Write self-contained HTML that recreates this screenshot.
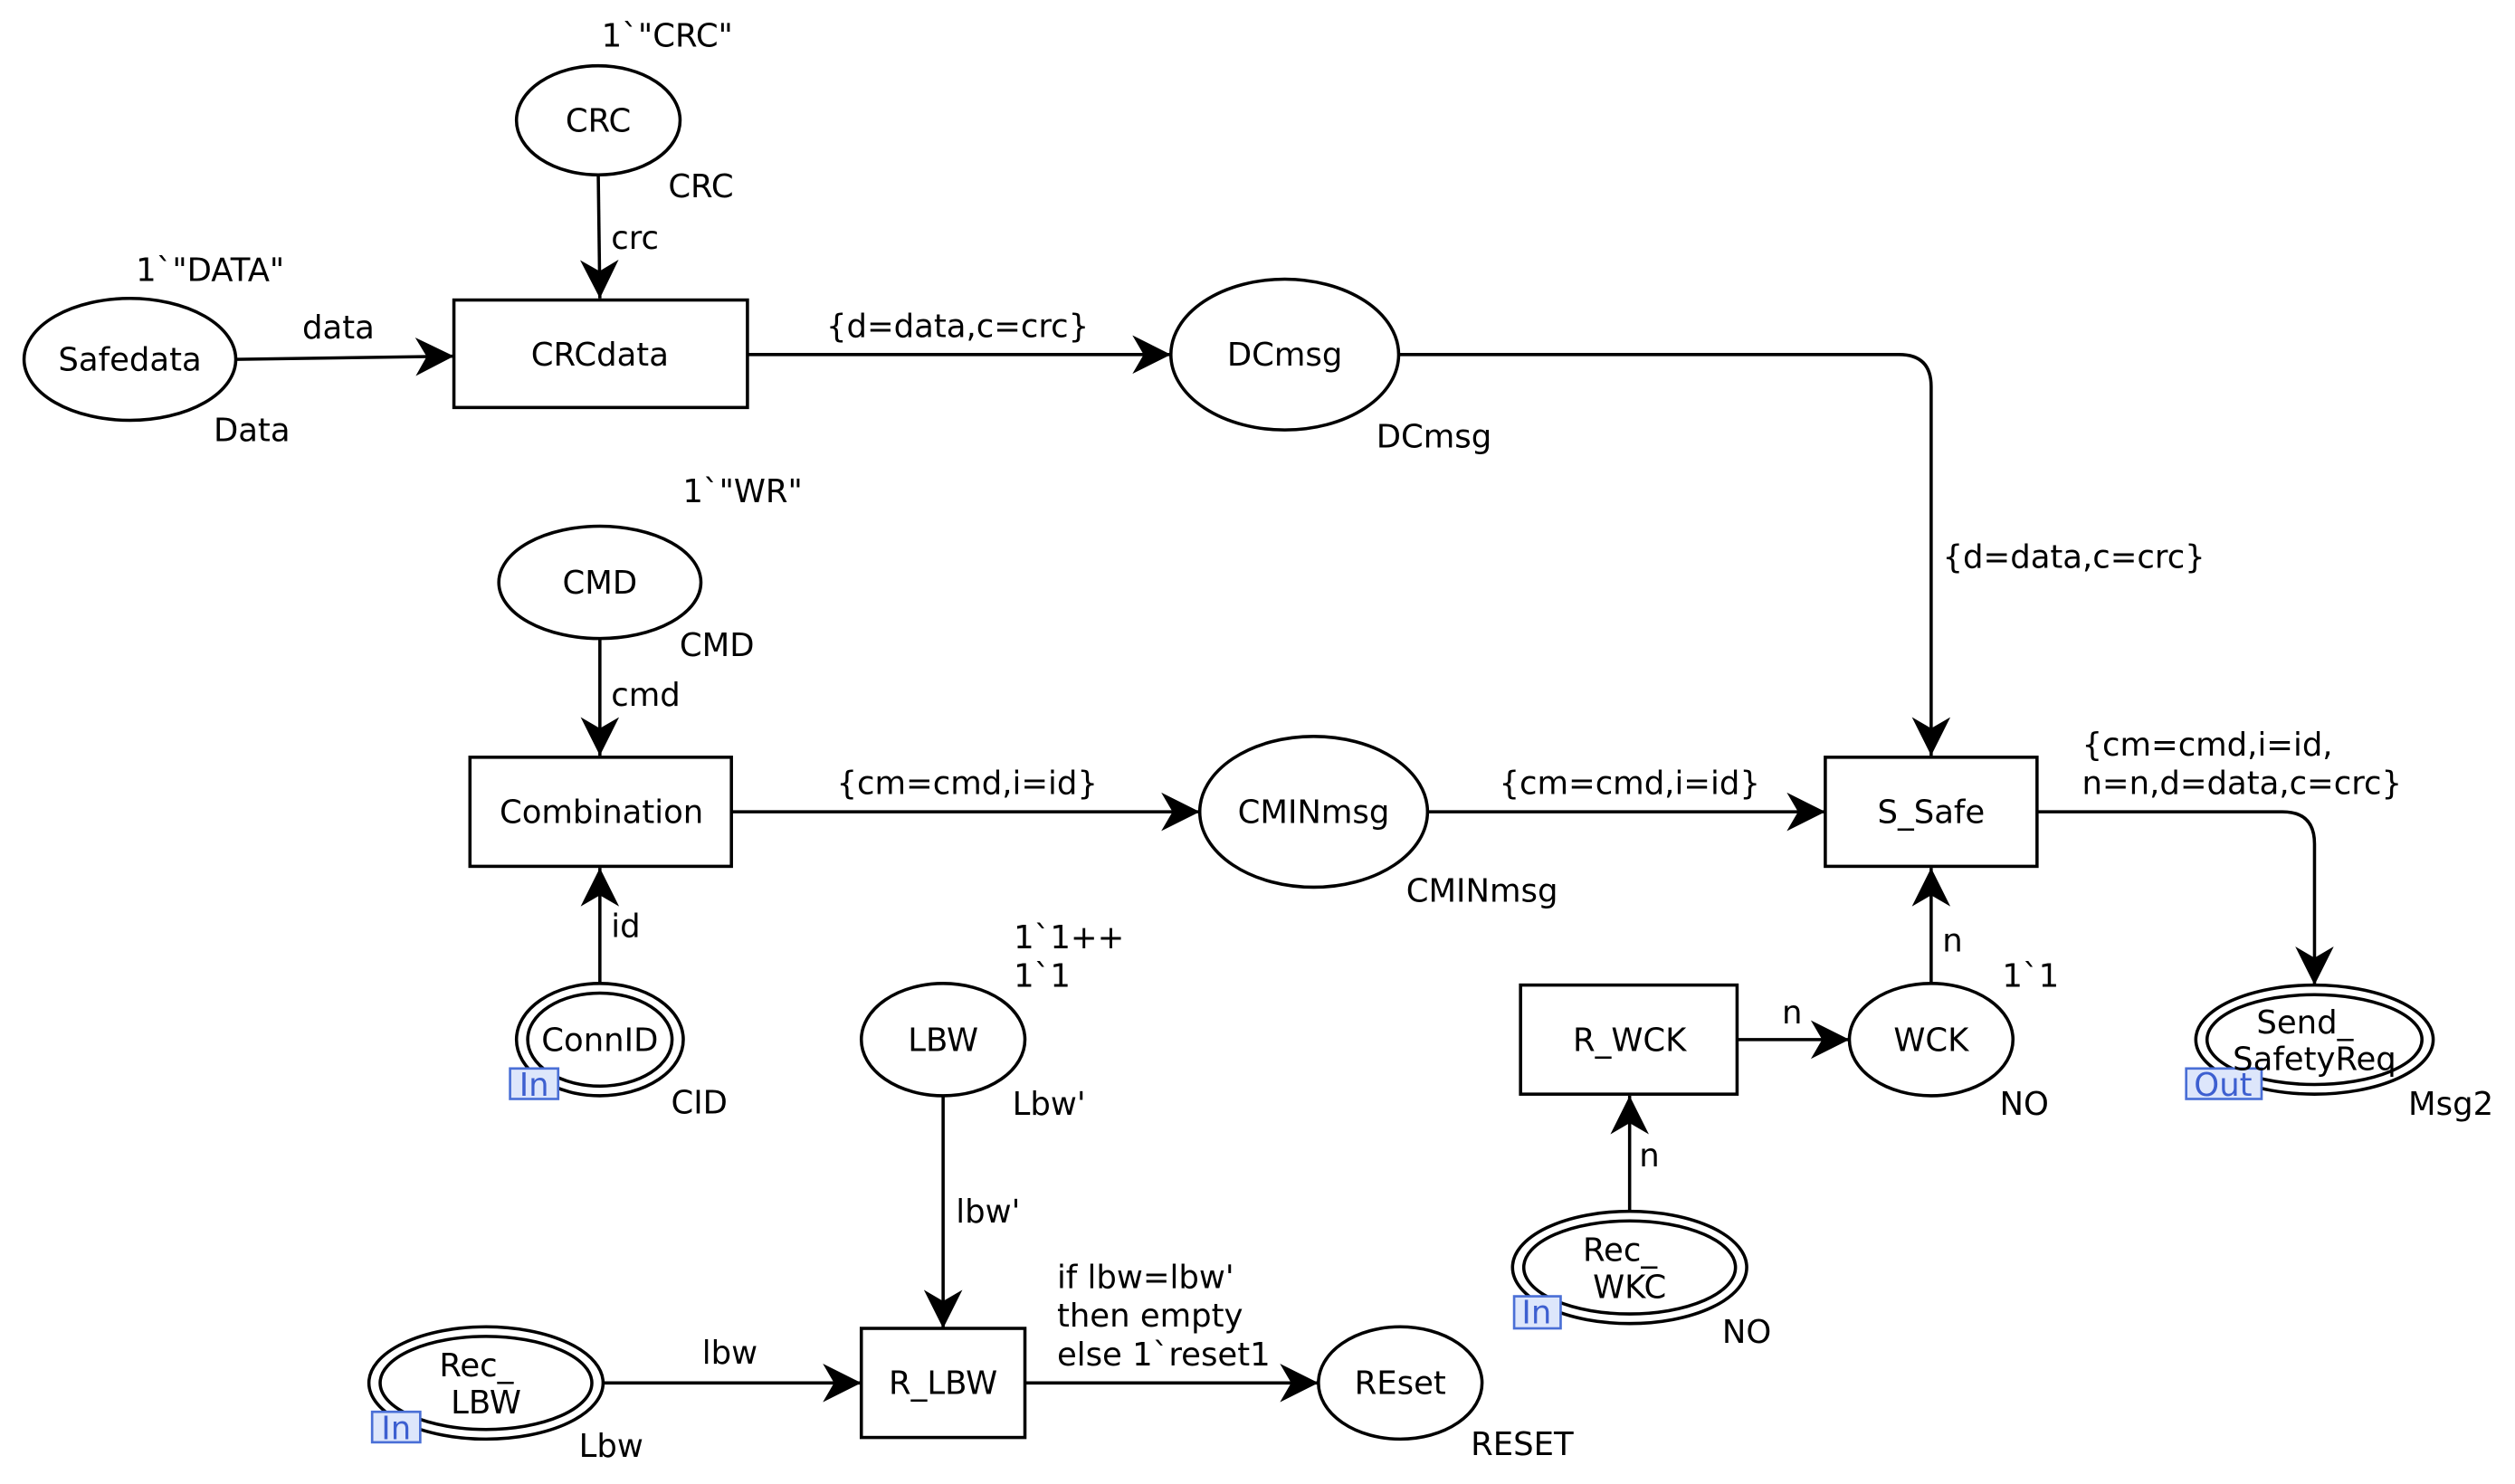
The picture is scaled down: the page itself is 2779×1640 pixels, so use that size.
<!DOCTYPE html>
<html><head><meta charset="utf-8"><style>html,body{margin:0;padding:0;background:#fff}svg{display:block}</style></head>
<body>
<svg width="2779" height="1640" viewBox="0 0 1568 925" preserveAspectRatio="none" xmlns="http://www.w3.org/2000/svg" font-family="DejaVu Sans, Liberation Sans, sans-serif" font-size="20">
<defs>
<marker id="a" viewBox="0 0 24 24" refX="24" refY="12" markerWidth="24" markerHeight="24" markerUnits="userSpaceOnUse" orient="auto">
<path d="M0,0 L24,12 L0,24 L7,12 Z" fill="#000"/>
</marker>
</defs>
<g fill="none" stroke="#000" stroke-width="2">
<ellipse cx="373" cy="75" rx="51" ry="34"/>
<ellipse cx="81" cy="224" rx="66" ry="38"/>
<ellipse cx="801" cy="221" rx="71" ry="47"/>
<ellipse cx="374" cy="363" rx="63" ry="35"/>
<ellipse cx="819" cy="506" rx="71" ry="47"/>
<ellipse cx="588" cy="648" rx="51" ry="35"/>
<ellipse cx="873" cy="862" rx="51" ry="35"/>
<ellipse cx="1204" cy="648" rx="51" ry="35"/>
<ellipse cx="374" cy="648" rx="52" ry="35"/><ellipse cx="374" cy="648" rx="45" ry="29"/>
<ellipse cx="1443" cy="648" rx="74" ry="34"/><ellipse cx="1443" cy="648" rx="67" ry="28"/>
<ellipse cx="303" cy="862" rx="73" ry="35"/><ellipse cx="303" cy="862" rx="66" ry="29"/>
<ellipse cx="1016" cy="790" rx="73" ry="35"/><ellipse cx="1016" cy="790" rx="66" ry="29"/>
<rect x="283" y="187" width="183" height="67"/>
<rect x="293" y="472" width="163" height="68"/>
<rect x="1138" y="472" width="132" height="68"/>
<rect x="537" y="828" width="102" height="68"/>
<rect x="948" y="614" width="135" height="68"/>
<path d="M373,109 L374,186" marker-end="url(#a)"/>
<path d="M147,224 L283,222" marker-end="url(#a)"/>
<path d="M466,221 L730,221" marker-end="url(#a)"/>
<path d="M872,221 L1184,221 Q1204,221 1204,241 L1204,471" marker-end="url(#a)"/>
<path d="M374,398 L374,471" marker-end="url(#a)"/>
<path d="M456,506 L748,506" marker-end="url(#a)"/>
<path d="M890,506 L1138,506" marker-end="url(#a)"/>
<path d="M1270,506 L1423,506 Q1443,506 1443,526 L1443,614" marker-end="url(#a)"/>
<path d="M374,613 L374,541" marker-end="url(#a)"/>
<path d="M588,683 L588,828" marker-end="url(#a)"/>
<path d="M376,862 L537,862" marker-end="url(#a)"/>
<path d="M639,862 L822,862" marker-end="url(#a)"/>
<path d="M1083,648 L1153,648" marker-end="url(#a)"/>
<path d="M1204,613 L1204,541" marker-end="url(#a)"/>
<path d="M1016,755 L1016,683" marker-end="url(#a)"/>
</g>
<g fill="#dde6fb" stroke="#4a6fd6" stroke-width="1.5">
<rect x="318" y="666" width="30" height="19"/>
<rect x="1363" y="666" width="47" height="19"/>
<rect x="232" y="880" width="30" height="19"/>
<rect x="944" y="808" width="29" height="20"/>
</g>
<g fill="#3d5fd0" text-anchor="middle">
<text x="333" y="683">In</text>
<text x="1386" y="683">Out</text>
<text x="247" y="897">In</text>
<text x="958" y="825">In</text>
</g>
<g fill="#000" text-anchor="middle">
<text x="373" y="82">CRC</text>
<text x="81" y="231">Safedata</text>
<text x="374" y="228">CRCdata</text>
<text x="801" y="228">DCmsg</text>
<text x="374" y="370">CMD</text>
<text x="375" y="513">Combination</text>
<text x="819" y="513">CMINmsg</text>
<text x="1204" y="513">S_Safe</text>
<text x="374" y="655">ConnID</text>
<text x="588" y="655">LBW</text>
<text x="1016" y="655">R_WCK</text>
<text x="1204" y="655">WCK</text>
<text x="1437" y="644">Send_</text>
<text x="1443" y="667">SafetyReq</text>
<text x="1010" y="786">Rec_</text>
<text x="1016" y="809">WKC</text>
<text x="297" y="858">Rec_</text>
<text x="303" y="881">LBW</text>
<text x="588" y="869">R_LBW</text>
<text x="873" y="869">REset</text>
<text x="416" y="29">1`"CRC"</text>
<text x="437" y="123">CRC</text>
<text x="131" y="175">1`"DATA"</text>
<text x="157" y="275">Data</text>
<text x="894" y="279">DCmsg</text>
<text x="463" y="313">1`"WR"</text>
<text x="447" y="409">CMD</text>
<text x="924" y="562">CMINmsg</text>
<text x="436" y="694">CID</text>
<text x="654" y="695">Lbw'</text>
<text x="1266" y="615">1`1</text>
<text x="1262" y="695">NO</text>
<text x="1528" y="695">Msg2</text>
<text x="1089" y="837">NO</text>
<text x="381" y="908">Lbw</text>
<text x="949" y="907">RESET</text>
<text x="211" y="211">data</text>
<text x="597" y="210">{d=data,c=crc}</text>
<text x="1293" y="354">{d=data,c=crc}</text>
<text x="603" y="495">{cm=cmd,i=id}</text>
<text x="1016" y="495">{cm=cmd,i=id}</text>
<text x="455" y="850">lbw</text>
</g>
<g fill="#000">
<text x="381" y="155">crc</text>
<text x="381" y="440">cmd</text>
<text x="381" y="584">id</text>
<text x="1298" y="471">{cm=cmd,i=id,</text>
<text x="1298" y="495">n=n,d=data,c=crc}</text>
<text x="632" y="591">1`1++</text>
<text x="632" y="615">1`1</text>
<text x="596" y="762">lbw'</text>
<text x="659" y="803">if lbw=lbw'</text>
<text x="659" y="827">then empty</text>
<text x="659" y="851">else 1`reset1</text>
<text x="1111" y="638">n</text>
<text x="1211" y="593">n</text>
<text x="1022" y="727">n</text>
</g>
</svg>
</body></html>
